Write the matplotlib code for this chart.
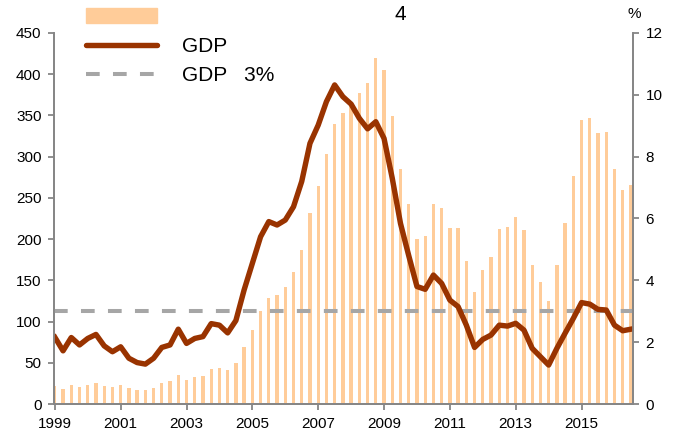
import matplotlib.pyplot as plt
from matplotlib.patches import Patch
from matplotlib.lines import Line2D

plt.rcParams['font.family'] = ['Liberation Sans', 'DejaVu Sans']

# quarterly, 1999Q1 .. 2016Q3
bars = [22, 18, 23, 21, 23, 25.5, 22, 20.5, 23, 19.5, 17.5, 17, 20, 25.5, 27.5, 35,
        29.5, 33, 34, 43, 43.5, 41, 50, 69, 90, 113, 129, 132, 142, 160, 187, 232,
        264, 303, 340, 353, 361, 377, 389, 420, 405, 349, 285, 243, 200.5, 204, 242, 237.5,
        213.5, 213.5, 173.5, 136, 163, 178, 212, 215, 227, 211, 168, 148, 125, 168,
        219, 277, 344.5, 346.5, 329, 330, 285, 260, 266]
gdp = [2.16, 1.72, 2.15, 1.91, 2.12, 2.25, 1.88, 1.69, 1.85, 1.48, 1.34, 1.29, 1.48, 1.83, 1.91, 2.42,
       1.96, 2.12, 2.18, 2.6, 2.55, 2.3, 2.7, 3.69, 4.55, 5.41, 5.9, 5.79, 5.95, 6.38, 7.2, 8.43,
       9.02, 9.78, 10.32, 9.94, 9.7, 9.24, 8.9, 9.13, 8.59, 7.3, 5.84, 4.8, 3.8, 3.71, 4.17, 3.9,
       3.36, 3.15, 2.55, 1.83, 2.09, 2.23, 2.55, 2.52, 2.61, 2.39, 1.8, 1.53, 1.26, 1.8,
       2.29, 2.77, 3.28, 3.23, 3.06, 3.04, 2.55, 2.37, 2.42]
years = ['1999', '2001', '2003', '2005', '2007', '2009', '2011', '2013', '2015']
labels = ['', 'GDP', 'GDP   3%']

bar_color = '#FFCC99'
line_color = '#993300'
dash_color = '#A6A6A6'
spine_color = '#868686'

fig = plt.figure(figsize=(6.8, 4.36), dpi=100)
ax1 = fig.add_axes([54/680, 1-404/436, (633-54)/680, (404-33)/436])
ax2 = ax1.twinx()

x = list(range(len(bars)))
ax1.bar(x, bars, width=0.4, color=bar_color)
ax1.set_ylim(0, 450)
ax1.set_yticks(range(0, 451, 50))
ax1.set_xlim(-0.1, 70.25)
ax1.set_xticks(range(0, 8 * len(years), 8))
ax1.set_xticklabels(years)

ax2.axhline(3, color=dash_color, lw=2.9, dashes=(3.4, 3.3))
ax2.plot(x, gdp, color=line_color, lw=3.9, solid_joinstyle='round')
ax2.set_ylim(0, 12)
ax2.set_yticks(range(0, 13, 2))

for ax in (ax1, ax2):
    ax.spines['top'].set_visible(False)
    for s in ('left', 'right', 'bottom'):
        ax.spines[s].set_color(spine_color)
        ax.spines[s].set_linewidth(1.3)
    ax.tick_params(colors=spine_color, labelcolor='black', labelsize=11,
                   length=4, width=1.3, pad=5)

handles = [Patch(color=bar_color),
           Line2D([], [], color=line_color, lw=3.9, solid_capstyle='round'),
           Line2D([], [], color=dash_color, lw=2.9, dashes=(3.4, 3.3))]
fig.legend(handles, labels, loc='upper left', bbox_to_anchor=(84/680, 1 - 6/436),
           frameon=False, fontsize=15, handlelength=3.4, handletextpad=1.2,
           labelspacing=0.48, borderaxespad=0, borderpad=0.1)

fig.text(400/680, 1-14/436, '4', fontsize=15, ha='center', va='center')
fig.text(634/680, 1-14/436, '%', fontsize=11, ha='center', va='center')

fig.savefig('out.png', dpi=100)
